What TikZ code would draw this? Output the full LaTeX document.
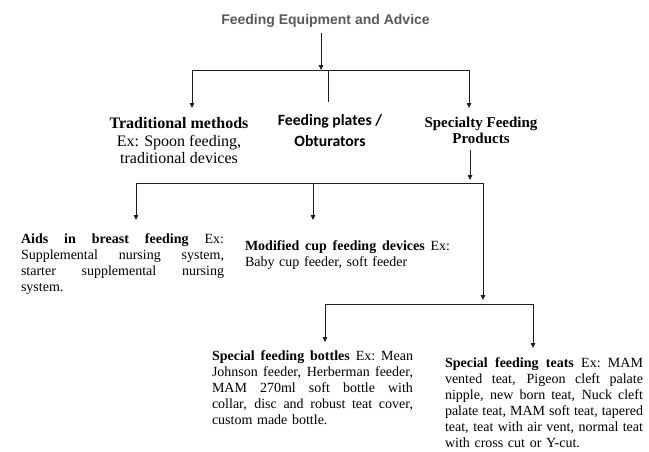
\documentclass[tikz,border=0pt]{standalone}
\usepackage{fontspec}
\setmainfont{Liberation Serif}
\newfontfamily\arialf{Liberation Sans}
\newfontfamily\calf{Carlito}
\usetikzlibrary{arrows.meta}
\definecolor{titlegray}{RGB}{89,89,89}
\definecolor{linec}{RGB}{30,30,30}
\newdimen\jw
\newcommand\jl[1]{\leavevmode\hbox to \jw{\spaceskip=0.25em plus 10em\relax\xspaceskip=0.25em plus 10em\relax #1}}
\begin{document}
\begin{tikzpicture}[x=1pt,y=-1pt,
  tip/.tip={Triangle[length=5pt,width=4.5pt]},
  conn/.style={draw=linec,line width=0.8pt},
  arr/.style={conn,-tip},
  darr/.style={conn,tip-tip},
  body/.style={inner sep=0pt,outer sep=0pt,font=\fontsize{14}{16}\selectfont,align=left,anchor=north west},
  head/.style={inner sep=0pt,outer sep=0pt,align=center,anchor=north}]
\useasboundingbox (0,0) rectangle (649,451);

% nodes
\node[inner sep=0pt,anchor=base,font=\arialf\bfseries\fontsize{14}{16}\selectfont,text=titlegray] (title) at (325.5,24) {Feeding Equipment and Advice};
\node[head,font=\fontsize{16}{17.5}\selectfont] (trad) at (179,117.5) {\textbf{Traditional methods}\\Ex: Spoon feeding,\\traditional devices};
\node[head,font=\calf\bfseries\fontsize{15.7}{21}\selectfont] (plates) at (330,114.5) {Feeding plates /\\Obturators};
\node[head,font=\bfseries\fontsize{15}{16.5}\selectfont] (spec) at (481,117) {Specialty Feeding\\Products};

\node[body,text width=203pt] (aids) at (21,234) {\jw=203pt\jl{\textbf{Aids in breast feeding} Ex:}\\\jl{Supplemental nursing system,}\\\jl{starter supplemental nursing}\\system.};
\node[body,text width=205pt] (cup) at (245,241) {\jw=205pt\jl{\textbf{Modified cup feeding devices} Ex:}\\Baby cup feeder, soft feeder};
\node[body,text width=201pt] (bottles) at (212,351) {\jw=201pt\jl{\textbf{Special feeding bottles} Ex: Mean}\\\jl{Johnson feeder, Herberman feeder,}\\\jl{MAM 270ml soft bottle with}\\\jl{collar, disc and robust teat cover,}\\custom made bottle.};
\node[body,text width=198pt] (teats) at (445,357.5) {\jw=198pt\jl{\textbf{Special feeding teats} Ex: MAM}\\\jl{vented teat, Pigeon cleft palate}\\\jl{nipple, new born teat, Nuck cleft}\\\jl{palate teat, MAM soft teat, tapered}\\\jl{teat, teat with air vent, normal teat}\\with cross cut or Y-cut.};

% junction coordinates
\coordinate (t0) at (321,33);
\coordinate (j0) at (321,70);
\coordinate (h1l) at (192,70);
\coordinate (h1r) at (469,70);
\coordinate (m0) at (328,70);
\coordinate (a1) at (192,108);
\coordinate (m1) at (328,102);
\coordinate (a2) at (469,108);
\coordinate (s0) at (470,150);
\coordinate (s1) at (470,180);
\coordinate (h2l) at (136,183);
\coordinate (h2m) at (313,183);
\coordinate (h2r) at (483,183);
\coordinate (a3) at (136,220);
\coordinate (a4) at (313,220);
\coordinate (a5) at (483,300);
\coordinate (h3l) at (325,304);
\coordinate (h3r) at (533,304);
\coordinate (a6) at (325,342);
\coordinate (a7) at (533,348);

% connectors
\draw[arr] (t0) -- (j0);
\draw[darr] (a1) -- (h1l) -- (h1r) -- (a2);
\draw[conn] (m0) -- (m1);
\draw[arr] (s0) -- (s1);
\draw[darr] (a3) -- (h2l) -- (h2r) -- (a5);
\draw[arr] (h2m) -- (a4);
\draw[darr] (a6) -- (h3l) -- (h3r) -- (a7);
\end{tikzpicture}
\end{document}
